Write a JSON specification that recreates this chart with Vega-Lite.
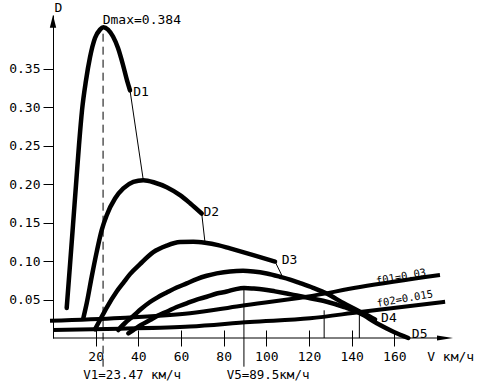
{
  "$schema": "https://vega.github.io/schema/vega-lite/v6.json",
  "width": 400,
  "height": 323,
  "autosize": "none",
  "padding": {"left": 53, "top": 15, "right": 40, "bottom": 46},
  "background": "white",
  "config": {
    "view": {"stroke": null},
    "font": "DejaVu Sans Mono",
    "text": {"font": "DejaVu Sans Mono", "color": "black"}
  },
  "datasets": {
    "curves": [
      {"c": "D1", "V": 6.42, "D": 0.039}, {"c": "D1", "V": 7.97, "D": 0.095}, {"c": "D1", "V": 9.38, "D": 0.147},
      {"c": "D1", "V": 10.78, "D": 0.199}, {"c": "D1", "V": 12.19, "D": 0.251}, {"c": "D1", "V": 13.6, "D": 0.296},
      {"c": "D1", "V": 15.47, "D": 0.335}, {"c": "D1", "V": 17.35, "D": 0.365}, {"c": "D1", "V": 19.69, "D": 0.39},
      {"c": "D1", "V": 22.03, "D": 0.401}, {"c": "D1", "V": 23.58, "D": 0.404}, {"c": "D1", "V": 25.79, "D": 0.401},
      {"c": "D1", "V": 28.13, "D": 0.392}, {"c": "D1", "V": 30.47, "D": 0.377}, {"c": "D1", "V": 32.82, "D": 0.355},
      {"c": "D1", "V": 34.69, "D": 0.335}, {"c": "D1", "V": 36.1, "D": 0.322},
      {"c": "D2", "V": 14.2, "D": 0.0256}, {"c": "D2", "V": 15.8, "D": 0.0451}, {"c": "D2", "V": 18.14, "D": 0.0796},
      {"c": "D2", "V": 20.49, "D": 0.112}, {"c": "D2", "V": 22.83, "D": 0.1403}, {"c": "D2", "V": 25.18, "D": 0.1597},
      {"c": "D2", "V": 29.07, "D": 0.1814}, {"c": "D2", "V": 32.96, "D": 0.1944}, {"c": "D2", "V": 37.65, "D": 0.203},
      {"c": "D2", "V": 42.33, "D": 0.2052}, {"c": "D2", "V": 47.82, "D": 0.2019}, {"c": "D2", "V": 53.3, "D": 0.1961},
      {"c": "D2", "V": 59.54, "D": 0.1857}, {"c": "D2", "V": 64.23, "D": 0.1753}, {"c": "D2", "V": 69.71, "D": 0.1619},
      {"c": "D3", "V": 19.69, "D": 0.0113}, {"c": "D3", "V": 22.03, "D": 0.0234}, {"c": "D3", "V": 25.18, "D": 0.0396},
      {"c": "D3", "V": 29.86, "D": 0.0605}, {"c": "D3", "V": 32.96, "D": 0.0718}, {"c": "D3", "V": 36.1, "D": 0.0831},
      {"c": "D3", "V": 40.79, "D": 0.0961}, {"c": "D3", "V": 47.02, "D": 0.1117}, {"c": "D3", "V": 53.3, "D": 0.1201},
      {"c": "D3", "V": 59.54, "D": 0.1247}, {"c": "D3", "V": 65.78, "D": 0.1251}, {"c": "D3", "V": 71.26, "D": 0.1238},
      {"c": "D3", "V": 77.36, "D": 0.1208}, {"c": "D3", "V": 82.98, "D": 0.1165}, {"c": "D3", "V": 93.9, "D": 0.1078},
      {"c": "D3", "V": 104.08, "D": 0.0994},
      {"c": "D4", "V": 30.61, "D": 0.0104}, {"c": "D4", "V": 33.76, "D": 0.0195}, {"c": "D4", "V": 37.65, "D": 0.0286},
      {"c": "D4", "V": 41.26, "D": 0.0377}, {"c": "D4", "V": 45.48, "D": 0.0468}, {"c": "D4", "V": 49.23, "D": 0.0532},
      {"c": "D4", "V": 53.3, "D": 0.0591}, {"c": "D4", "V": 57.99, "D": 0.0656}, {"c": "D4", "V": 62.68, "D": 0.071},
      {"c": "D4", "V": 67.37, "D": 0.0766}, {"c": "D4", "V": 72.06, "D": 0.0809}, {"c": "D4", "V": 76.75, "D": 0.084},
      {"c": "D4", "V": 82.98, "D": 0.0866}, {"c": "D4", "V": 89.08, "D": 0.0873}, {"c": "D4", "V": 93.9, "D": 0.0864},
      {"c": "D4", "V": 100.19, "D": 0.0838}, {"c": "D4", "V": 106.42, "D": 0.0796}, {"c": "D4", "V": 111.11, "D": 0.076},
      {"c": "D4", "V": 115.8, "D": 0.0714}, {"c": "D4", "V": 121.9, "D": 0.0652}, {"c": "D4", "V": 128.32, "D": 0.0578},
      {"c": "D4", "V": 136.1, "D": 0.0455}, {"c": "D4", "V": 143.93, "D": 0.0342}, {"c": "D4", "V": 148.62, "D": 0.0277},
      {"c": "D4", "V": 150.96, "D": 0.024},
      {"c": "D5", "V": 35.3, "D": 0.0061}, {"c": "D5", "V": 37.65, "D": 0.0104}, {"c": "D5", "V": 41.26, "D": 0.0169},
      {"c": "D5", "V": 45.48, "D": 0.0234}, {"c": "D5", "V": 49.23, "D": 0.0292}, {"c": "D5", "V": 53.3, "D": 0.0342},
      {"c": "D5", "V": 57.99, "D": 0.0403}, {"c": "D5", "V": 62.68, "D": 0.0451}, {"c": "D5", "V": 67.37, "D": 0.05},
      {"c": "D5", "V": 72.06, "D": 0.0536}, {"c": "D5", "V": 76.75, "D": 0.0578}, {"c": "D5", "V": 81.43, "D": 0.0604},
      {"c": "D5", "V": 85.79, "D": 0.0636}, {"c": "D5", "V": 89.54, "D": 0.0649}, {"c": "D5", "V": 93.9, "D": 0.0643},
      {"c": "D5", "V": 98.59, "D": 0.0632}, {"c": "D5", "V": 104.08, "D": 0.0606}, {"c": "D5", "V": 109.56, "D": 0.0578},
      {"c": "D5", "V": 114.25, "D": 0.0552}, {"c": "D5", "V": 118.94, "D": 0.0526}, {"c": "D5", "V": 123.63, "D": 0.05},
      {"c": "D5", "V": 128.32, "D": 0.0471}, {"c": "D5", "V": 136.1, "D": 0.0406}, {"c": "D5", "V": 143.93, "D": 0.0321},
      {"c": "D5", "V": 151.76, "D": 0.0191}, {"c": "D5", "V": 159.54, "D": 0.0082}, {"c": "D5", "V": 166.57, "D": 0.0}
    ],
    "flines": [
      {"f": "f01", "V": -1.4, "D": 0.0223}, {"f": "f01", "V": 31.4, "D": 0.026}, {"f": "f01", "V": 64.2, "D": 0.0321},
      {"f": "f01", "V": 87.7, "D": 0.0416}, {"f": "f01", "V": 118.9, "D": 0.0536}, {"f": "f01", "V": 143.9, "D": 0.0662},
      {"f": "f01", "V": 181.4, "D": 0.0818},
      {"f": "f02", "V": 0, "D": 0.0104}, {"f": "f02", "V": 31.4, "D": 0.0121}, {"f": "f02", "V": 64.2, "D": 0.0149},
      {"f": "f02", "V": 92.3, "D": 0.0208}, {"f": "f02", "V": 120.5, "D": 0.0256}, {"f": "f02", "V": 143.9, "D": 0.0338},
      {"f": "f02", "V": 183.8, "D": 0.0471}
    ],
    "leaders": [
      {"V": 36.1, "D": 0.322, "V2": 42.33, "D2": 0.2052},
      {"V": 69.71, "D": 0.1619, "V2": 71.26, "D2": 0.1238},
      {"V": 104.08, "D": 0.0994, "V2": 107.2, "D2": 0.0818}
    ],
    "speeds": [
      {"s": "V5", "V": 89.5, "D0": -0.0373, "D1": 0.0649},
      {"s": "Vf01", "V": 127.1, "D0": 0, "D1": 0.036},
      {"s": "Vf02", "V": 143.6, "D0": 0, "D1": 0.036}
    ],
    "curveLabels": [
      {"t": "D1", "V": 37.6, "D": 0.3205},
      {"t": "D2", "V": 70.5, "D": 0.1632},
      {"t": "D3", "V": 107.2, "D": 0.1013},
      {"t": "D4", "V": 153.8, "D": 0.0266},
      {"t": "D5", "V": 168.2, "D": 0.0054},
      {"t": "Dmax=0.384", "V": 23.3, "D": 0.4136}
    ],
    "speedLabels": [
      {"t": "V1=23.47 км/ч", "V": 14.2, "D": -0.0487},
      {"t": "V5=89.5км/ч", "V": 81.4, "D": -0.0487}
    ],
    "fLabels": [
      {"t": "f01=0.03", "V": 163.2, "D": 0.0792},
      {"t": "f02=0.015", "V": 165.0, "D": 0.0506}
    ]
  },
  "layer": [
    {
      "data": {"name": "curves"},
      "mark": {"type": "line", "color": "black", "strokeWidth": 4.5, "interpolate": "monotone", "strokeCap": "round", "strokeJoin": "round"},
      "encoding": {
        "x": {
          "field": "V", "type": "quantitative",
          "scale": {"domain": [0, 187.5], "nice": false, "zero": false},
          "axis": {
            "values": [20, 40, 60, 80, 100, 120, 140, 160],
            "title": "V  км/ч",
            "offset": -8, "tickSize": 16, "domain": false, "grid": false,
            "tickColor": "black", "tickWidth": 1,
            "labelPadding": 4, "labelFont": "DejaVu Sans Mono", "labelFontSize": 13, "labelColor": "black",
            "titleFont": "DejaVu Sans Mono", "titleFontSize": 13, "titleFontWeight": "normal", "titleColor": "black",
            "titleAnchor": null, "titleAlign": "left", "titleBaseline": "middle", "titleX": 373.7, "titleY": 26
          }
        },
        "y": {
          "field": "D", "type": "quantitative",
          "scale": {"domain": [0, 0.42], "nice": false, "zero": false},
          "axis": {
            "values": [0.05, 0.1, 0.15, 0.2, 0.25, 0.3, 0.35],
            "format": ".2f",
            "title": "D",
            "tickSize": 10, "domain": true, "domainColor": "black", "domainWidth": 1, "grid": false,
            "tickColor": "black", "tickWidth": 1,
            "labelPadding": 3, "labelFont": "DejaVu Sans Mono", "labelFontSize": 13, "labelColor": "black",
            "titleFont": "DejaVu Sans Mono", "titleFontSize": 13, "titleFontWeight": "normal", "titleColor": "black",
            "titleAngle": 0, "titleAnchor": null, "titleAlign": "left", "titleBaseline": "middle", "titleX": 1, "titleY": -7.5
          }
        },
        "detail": {"field": "c", "type": "nominal"}
      }
    },
    {
      "data": {"name": "flines"},
      "mark": {"type": "line", "color": "black", "strokeWidth": 4, "interpolate": "monotone"},
      "encoding": {
        "x": {"field": "V", "type": "quantitative"},
        "y": {"field": "D", "type": "quantitative"},
        "detail": {"field": "f", "type": "nominal"}
      }
    },
    {
      "data": {"name": "leaders"},
      "mark": {"type": "rule", "color": "black", "strokeWidth": 1},
      "encoding": {
        "x": {"field": "V", "type": "quantitative"},
        "y": {"field": "D", "type": "quantitative"},
        "x2": {"field": "V2"},
        "y2": {"field": "D2"}
      }
    },
    {
      "data": {"values": [{"s": "V1", "V": 23.47, "D0": -0.0373, "D1": 0.4035}]},
      "mark": {"type": "rule", "color": "black", "strokeWidth": 1, "strokeDash": [8, 5]},
      "encoding": {
        "x": {"field": "V", "type": "quantitative"},
        "y": {"field": "D0", "type": "quantitative"},
        "y2": {"field": "D1"}
      }
    },
    {
      "data": {"name": "speeds"},
      "mark": {"type": "rule", "color": "black", "strokeWidth": 1},
      "encoding": {
        "x": {"field": "V", "type": "quantitative"},
        "y": {"field": "D0", "type": "quantitative"},
        "y2": {"field": "D1"}
      }
    },
    {
      "data": {"values": [{}]},
      "mark": {"type": "rule", "color": "black", "strokeWidth": 1},
      "encoding": {
        "x": {"datum": 0, "type": "quantitative"},
        "x2": {"datum": 184},
        "y": {"datum": 0, "type": "quantitative"}
      }
    },
    {
      "data": {"values": [{}]},
      "mark": {"type": "point", "shape": "M0,0L-2,-0.3L-2,0.3Z", "filled": true, "color": "black", "size": 256, "opacity": 1},
      "encoding": {
        "x": {"datum": 187.5, "type": "quantitative"},
        "y": {"datum": 0, "type": "quantitative"}
      }
    },
    {
      "data": {"values": [{}]},
      "mark": {"type": "point", "shape": "M0,0L-0.4,1.6L0.4,1.6Z", "filled": true, "color": "black", "size": 256, "opacity": 1},
      "encoding": {
        "x": {"datum": 0, "type": "quantitative"},
        "y": {"datum": 0.42, "type": "quantitative"}
      }
    },
    {
      "data": {"name": "curveLabels"},
      "mark": {"type": "text", "align": "left", "baseline": "middle", "fontSize": 13, "color": "black"},
      "encoding": {
        "x": {"field": "V", "type": "quantitative"},
        "y": {"field": "D", "type": "quantitative"},
        "text": {"field": "t"}
      }
    },
    {
      "data": {"name": "speedLabels"},
      "mark": {"type": "text", "align": "left", "baseline": "middle", "fontSize": 12.5, "color": "black"},
      "encoding": {
        "x": {"field": "V", "type": "quantitative"},
        "y": {"field": "D", "type": "quantitative"},
        "text": {"field": "t"}
      }
    },
    {
      "data": {"name": "fLabels"},
      "mark": {"type": "text", "align": "center", "baseline": "middle", "fontSize": 10.5, "angle": -10, "color": "black"},
      "encoding": {
        "x": {"field": "V", "type": "quantitative"},
        "y": {"field": "D", "type": "quantitative"},
        "text": {"field": "t"}
      }
    }
  ]
}
